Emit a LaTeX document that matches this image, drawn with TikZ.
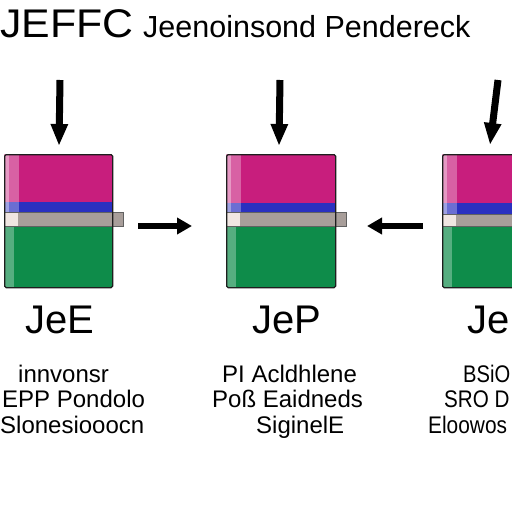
\documentclass[tikz,border=0pt]{standalone}
\usepackage{fontspec}
\setmainfont{Liberation Sans}
\usetikzlibrary{arrows.meta}
\definecolor{mag}{HTML}{C81E7D}
\definecolor{bandblue}{HTML}{2A30C0}
\definecolor{bargray}{HTML}{A89E9A}
\definecolor{barlight}{HTML}{F0E6E2}
\definecolor{boxgreen}{HTML}{0E8C4A}
\definecolor{edge}{HTML}{1E1E1E}
\tikzset{
  big/.style={font=\fontsize{40}{40}\selectfont, inner sep=0pt, anchor=base west},
  title2/.style={font=\fontsize{30.5}{30.5}\selectfont, inner sep=0pt, anchor=base west},
  row/.style={font=\fontsize{24}{24}\selectfont, inner sep=0pt, anchor=base west},
  downarrow/.style={line width=7pt, -{Triangle[length=22pt,width=16pt]}},
  sidearrow/.style={line width=6pt, -{Triangle[length=15pt,width=16pt]}},
  outline/.style={draw=edge, line width=1.3pt, rounded corners=1.5pt},
}
\newcommand{\jbox}[6]{% name, left, right, magbottom, bluebottom, barright
  \fill[mag] (#2,154) rectangle (#3,#4);
  \fill[bandblue] (#2,#4) rectangle (#3,#5);
  \fill[boxgreen] (#2,226) rectangle (#3,287);
  \fill[white,opacity=0.55] (#2,154) rectangle ({#2+5},#5);
  \fill[white,opacity=0.3] ({#2+5},154) rectangle ({#2+15},#5);
  \fill[white,opacity=0.3] (#2,226) rectangle ({#2+10},287);
  \fill[bargray] (#2,#5) rectangle (#6,226);
  \fill[barlight] (#2,#5) rectangle ({#2+14},226);
  \draw[edge!70, line width=0.8pt] (#2,#5) rectangle (#6,226);
  \node[outline, minimum width={#3-#2}, minimum height=133pt, inner sep=0pt, anchor=north west] (#1) at (#2,154) {};
}
\begin{document}
\begin{tikzpicture}[x=1pt,y=-1pt]
\useasboundingbox (0,0) rectangle (512,512);
\clip (0,0) rectangle (512,512);
\fill[white] (0,0) rectangle (512,512);

% header
\node[big, xscale=1.07] (t1) at (0,37) {JEFFC};
\node[title2] (t2) at (143,37) {Jeenoinsond Pendereck};

% boxes
\jbox{b1}{4}{112}{202}{212}{123}
\jbox{b2}{226}{335}{203}{212}{346}
\jbox{b3}{442}{530}{203}{214}{530}

% down arrows
\coordinate (d1s) at (60,80);  \coordinate (d1e) at (59,146);
\coordinate (d2s) at (280,80); \coordinate (d2e) at (279,146);
\coordinate (d3s) at (498,80); \coordinate (d3e) at (490,145);
\draw[downarrow] (d1s) -- (d1e);
\draw[downarrow] (d2s) -- (d2e);
\draw[downarrow] (d3s) -- (d3e);

% side arrows
\coordinate (a1s) at (138,226); \coordinate (a1e) at (192,226);
\coordinate (a2s) at (423,226); \coordinate (a2e) at (367,226);
\draw[sidearrow] (a1s) -- (a1e);
\draw[sidearrow] (a2s) -- (a2e);

% labels
\node[big] (l1) at (25,333) {JeE};
\node[big] (l2) at (252,333) {JeP};
\node[big] (l3) at (467,333) {Je};

% column 1
\node[row] (c11) at (18,382) {innvonsr};
\node[row] (c12) at (2,407) {EPP Pondolo};
\node[row] (c13) at (0,433) {Slonesiooocn};
% column 2
\node[row] (c21) at (222,382) {PI Acldhlene};
\node[row] (c22) at (212,407) {Poß Eaidneds};
\node[row] (c23) at (256,433) {SiginelE};
% column 3
\node[row, xscale=0.84] (c31) at (463,382) {BSiO};
\node[row, xscale=0.86] (c32) at (444,407) {SRO D};
\node[row, xscale=0.87] (c33) at (428,433) {Eloowos};
\end{tikzpicture}
\end{document}
